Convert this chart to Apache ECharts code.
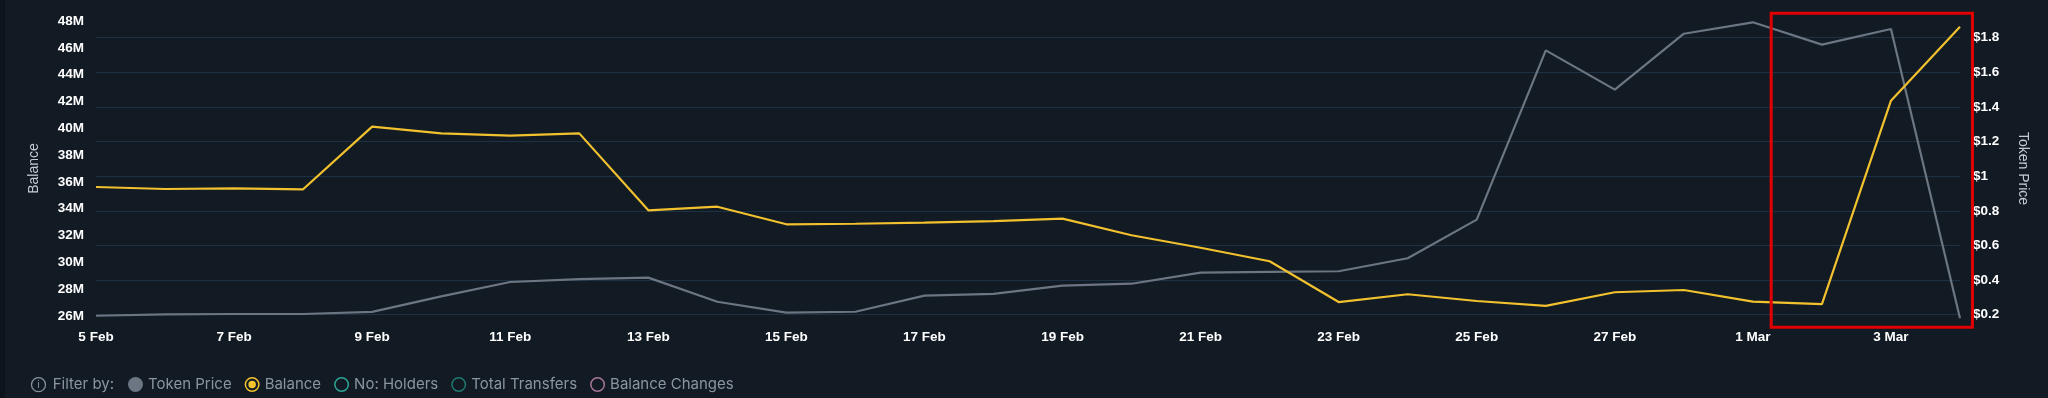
<!DOCTYPE html>
<html>
<head>
<meta charset="utf-8">
<script src="https://cdn.jsdelivr.net/npm/echarts@6/dist/echarts.min.js"></script>
<style>
  html, body { margin: 0; padding: 0; background: #121a24; }
  #chart { width: 2048px; height: 398px; }
</style>
</head>
<body>
<div id="chart"></div>
<script>
// Dates (5 Feb – 4 Mar)
const categories = ['5 Feb','6 Feb','7 Feb','8 Feb','9 Feb','10 Feb','11 Feb','12 Feb','13 Feb','14 Feb',
  '15 Feb','16 Feb','17 Feb','18 Feb','19 Feb','20 Feb','21 Feb','22 Feb','23 Feb','24 Feb',
  '25 Feb','26 Feb','27 Feb','28 Feb','1 Mar','2 Mar','3 Mar','4 Mar'];

// Balance, in millions (left axis)
const balanceM = [35.62, 35.47, 35.52, 35.45, 40.12, 39.62, 39.45, 39.62, 33.88, 34.15,
  32.84, 32.88, 32.96, 33.08, 33.26, 32.02, 31.09, 30.08, 27.04, 27.62,
  27.12, 26.75, 27.77, 27.94, 27.07, 26.89, 42.06, 47.57];

// Token price, USD (right axis)
const tokenPrice = [0.194, 0.202, 0.204, 0.204, 0.216, 0.306, 0.389, 0.405, 0.414, 0.275,
  0.212, 0.217, 0.310, 0.320, 0.368, 0.379, 0.443, 0.447, 0.451, 0.526,
  0.749, 1.727, 1.500, 1.823, 1.889, 1.760, 1.850, 0.179];

// Tick labels
const balanceTicks = [26, 28, 30, 32, 34, 36, 38, 40, 42, 44, 46, 48];
const priceTicks = [0.2, 0.4, 0.6, 0.8, 1, 1.2, 1.4, 1.6, 1.8];

const legendNames = ['Token Price', 'Balance', 'No: Holders', 'Total Transfers', 'Balance Changes'];
const legendColors = ['#6b7682', '#f2c12e', '#2fa596', '#1f7a72', '#a8769a'];

const ringPath = 'path://M7,0A7,7 0 1,1 7,14A7,7 0 1,1 7,0Z M7,1.4A5.6,5.6 0 1,0 7,12.6A5.6,5.6 0 1,0 7,1.4Z';
const ringDotPath = 'path://M7,0A7,7 0 1,1 7,14A7,7 0 1,1 7,0Z M7,1.4A5.6,5.6 0 1,0 7,12.6A5.6,5.6 0 1,0 7,1.4Z M7,3.5A3.5,3.5 0 1,1 7,10.5A3.5,3.5 0 1,1 7,3.5Z';
const legendIcons = ['circle', ringDotPath, ringPath, ringPath, ringPath];

const chart = echarts.init(document.getElementById('chart'), null, { renderer: 'canvas' });

const axisFont = 'Liberation Sans, Arial, Helvetica, sans-serif';
const legendFont = 'Inter, Roboto, sans-serif';
const legendTextColor = '#8b95a1';

const option = {
  backgroundColor: '#121a24',
  animation: false,
  grid: { left: 96, right: 88, top: 21, bottom: 82, containLabel: false },
  legend: {
    left: 128,
    top: 377,
    padding: 0,
    itemWidth: 15,
    itemHeight: 15,
    itemGap: 13,
    selectedMode: false,
    textStyle: { color: legendTextColor, fontSize: 15, fontFamily: legendFont },
    data: legendNames.map((n, i) => ({ name: n, icon: legendIcons[i], itemStyle: { color: legendColors[i] } }))
  },
  xAxis: {
    type: 'category',
    data: categories,
    boundaryGap: false,
    axisLine: { show: false },
    axisTick: { show: false },
    splitLine: { show: false },
    axisLabel: { interval: 1, color: '#ffffff', fontWeight: 'bold', fontSize: 13.5, fontFamily: axisFont, margin: 14 }
  },
  yAxis: [
    {
      type: 'value',
      position: 'left',
      min: balanceTicks[0],
      max: balanceTicks[balanceTicks.length - 1],
      interval: 2,
      name: 'Balance',
      nameLocation: 'middle',
      nameGap: 55,
      nameTextStyle: { color: '#c5ccd3', fontSize: 14, fontFamily: axisFont },
      axisLine: { show: false },
      axisTick: { show: false },
      splitLine: { show: false },
      axisLabel: { color: '#ffffff', fontWeight: 'bold', fontSize: 13.5, fontFamily: axisFont, margin: 12,
        formatter: v => v + 'M' }
    },
    {
      type: 'value',
      position: 'right',
      min: 0.1925,
      max: 1.8965,
      name: 'Token Price',
      nameLocation: 'middle',
      nameRotate: -90,
      nameGap: 56,
      nameTextStyle: { color: '#c5ccd3', fontSize: 14, fontFamily: axisFont },
      axisLine: { show: false },
      axisTick: { show: false, customValues: priceTicks },
      splitLine: { show: true, lineStyle: { color: '#1d3145', width: 1 } },
      axisLabel: { customValues: priceTicks, color: '#ffffff', fontWeight: 'bold', fontSize: 13.5, fontFamily: axisFont, margin: 13,
        formatter: v => '$' + (Math.round(v * 10) / 10) }
    }
  ],
  series: [
    {
      name: 'Token Price', type: 'line', yAxisIndex: 1, data: tokenPrice,
      showSymbol: false, symbol: 'none', clip: false,
      lineStyle: { color: legendColors[0], width: 2.2 }, itemStyle: { color: legendColors[0] }
    },
    {
      name: 'Balance', type: 'line', yAxisIndex: 0, data: balanceM,
      showSymbol: false, symbol: 'none', clip: false,
      lineStyle: { color: legendColors[1], width: 2.2 }, itemStyle: { color: legendColors[1] }
    },
    { name: 'No: Holders', type: 'line', data: [], itemStyle: { color: legendColors[2] } },
    { name: 'Total Transfers', type: 'line', data: [], itemStyle: { color: legendColors[3] } },
    { name: 'Balance Changes', type: 'line', data: [], itemStyle: { color: legendColors[4] } }
  ]
};

chart.setOption(option);

// Annotations: highlight box around the last days, derived from the axes
const x1 = chart.convertToPixel({ xAxisIndex: 0 }, '1 Mar');
const x2 = chart.convertToPixel({ xAxisIndex: 0 }, '2 Mar');
const x4 = chart.convertToPixel({ xAxisIndex: 0 }, '4 Mar');
const step = x2 - x1;
const gridTop = chart.convertToPixel({ yAxisIndex: 0 }, balanceTicks[balanceTicks.length - 1]);
const gridBottom = chart.convertToPixel({ yAxisIndex: 0 }, balanceTicks[0]);
const boxLeft = x1 + step * 0.265;
const boxRight = x4 + step * 0.18;
const boxTop = gridTop - 7.7;
const boxBottom = gridBottom + 11.3;

chart.setOption({
  graphic: [
    { type: 'rect', left: 0, top: 0, shape: { x: 0, y: 0, width: 5, height: 398 }, style: { fill: '#0d141c' }, silent: true },
    { type: 'circle', shape: { cx: 38.5, cy: 384.7, r: 7 }, style: { fill: 'none', stroke: legendTextColor, lineWidth: 1.2 }, silent: true },
    { type: 'text', x: 38.5, y: 385.2, style: { text: 'i', fill: legendTextColor, font: '10px ' + legendFont, align: 'center', verticalAlign: 'middle' }, silent: true },
    { type: 'text', x: 52.7, y: 384.7, style: { text: 'Filter by:', fill: legendTextColor, font: '15px ' + legendFont, align: 'left', verticalAlign: 'middle' }, silent: true },
    { type: 'rect', shape: { x: boxLeft, y: boxTop, width: boxRight - boxLeft, height: boxBottom - boxTop },
      style: { fill: 'none', stroke: '#e30000', lineWidth: 3 }, z: 100, silent: true }
  ]
});
</script>
</body>
</html>
